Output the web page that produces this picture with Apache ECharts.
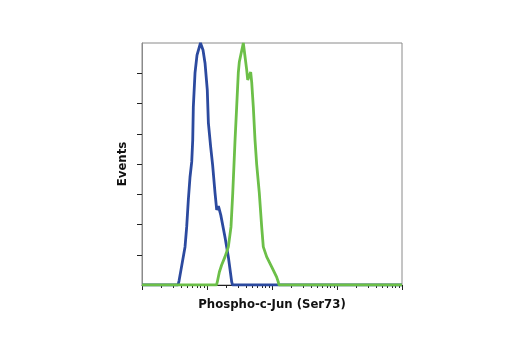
<!DOCTYPE html>
<html><head><meta charset="utf-8">
<script src="https://cdn.jsdelivr.net/npm/echarts@6/dist/echarts.min.js"></script>
<style>html,body{margin:0;padding:0;background:#fff}#c{width:520px;height:350px}</style>
</head><body><div id="c"></div>
<script>
// Intensity values (log axis) and event counts
const blueX = [1, 3.58, 3.71, 3.98, 4.27, 4.59, 4.87, 5.16, 5.48, 5.82, 6.03, 6.16, 6.54, 7.02, 7.94, 8.68, 9.32, 10.1, 10.5, 11.4, 12.2, 13.3, 14.1, 15.0, 16.3, 18.9, 21.3, 24.0, 24.7, 10000];
const blueY = [0, 0, 13, 50, 56, 126, 192, 281, 357, 407, 479, 588, 701, 760, 800, 777, 734, 645, 536, 456, 397, 304, 248, 261, 231, 159, 93, 10, 0, 0];
const greenX = [1, 14.0, 14.4, 15.5, 16.8, 18.9, 21.3, 23.4, 24.9, 26.0, 27.0, 28.6, 30.3, 31.4, 36.2, 40.8, 42.3, 47.0, 48.7, 51.6, 54.8, 58.2, 63.8, 69.4, 73.5, 82.9, 98.9, 118, 125, 128, 10000];
const greenY = [0, 0, 10, 43, 66, 93, 126, 192, 304, 397, 479, 588, 701, 737, 800, 711, 678, 704, 671, 588, 479, 397, 304, 192, 126, 93, 60, 26, 10, 0, 0];
const majorTicks = [1, 10, 100, 1000, 10000];
const minorTicks = [2,3,4,5,6,7,8,9,20,30,40,50,60,70,80,90,200,300,400,500,600,700,800,900,2000,3000,4000,5000,6000,7000,8000,9000];
const yTicks = [100, 200, 300, 400, 500, 600, 700];
const xTitle = 'Phospho-c-Jun (Ser73)';
const yTitle = 'Events';

const zip = (a, b) => a.map((v, i) => [v, b[i]]);
const font = '"Liberation Sans Narrow", "DejaVu Sans Condensed", Arial, sans-serif';
const chart = echarts.init(document.getElementById('c'), null, {renderer: 'canvas'});
chart.setOption({
  animation: false,
  grid: {left: 142, top: 43, right: 118, bottom: 65, show: true, borderColor: '#8a8a8a', borderWidth: 1, backgroundColor: 'transparent'},
  xAxis: [
    {type: 'log', logBase: 10, min: 1, max: 10000, position: 'bottom',
     axisLine: {show: true, lineStyle: {color: '#222', width: 1}},
     axisTick: {show: true, customValues: majorTicks, length: 5, lineStyle: {color: '#222'}},
     axisLabel: {show: false}, splitLine: {show: false}, minorTick: {show: false},
     name: xTitle, nameLocation: 'middle', nameGap: 13,
     nameTextStyle: {fontFamily: font, fontWeight: 'bold', fontSize: 13, color: '#111'}},
    {type: 'log', logBase: 10, min: 1, max: 10000, position: 'bottom',
     axisLine: {show: false},
     axisTick: {show: true, customValues: minorTicks, length: 3, lineStyle: {color: '#222'}},
     axisLabel: {show: false}, splitLine: {show: false}}
  ],
  yAxis: {type: 'value', min: 0, max: 800, interval: 100,
    axisLine: {show: true, lineStyle: {color: '#8a8a8a'}},
    axisTick: {show: true, customValues: yTicks, length: 5, lineStyle: {color: '#222'}},
    axisLabel: {show: false}, splitLine: {show: false},
    name: yTitle, nameLocation: 'middle', nameRotate: 90, nameGap: 13,
    nameTextStyle: {fontFamily: font, fontWeight: 'bold', fontSize: 13, color: '#111'}},
  series: [
    {type: 'line', data: zip(blueX, blueY), showSymbol: false, symbol: 'none', lineStyle: {color: '#2c4a9f', width: 2.8}, z: 2},
    {type: 'line', data: zip(greenX, greenY), showSymbol: false, symbol: 'none', lineStyle: {color: '#6cbf48', width: 2.8}, z: 3}
  ]
});
</script></body></html>
